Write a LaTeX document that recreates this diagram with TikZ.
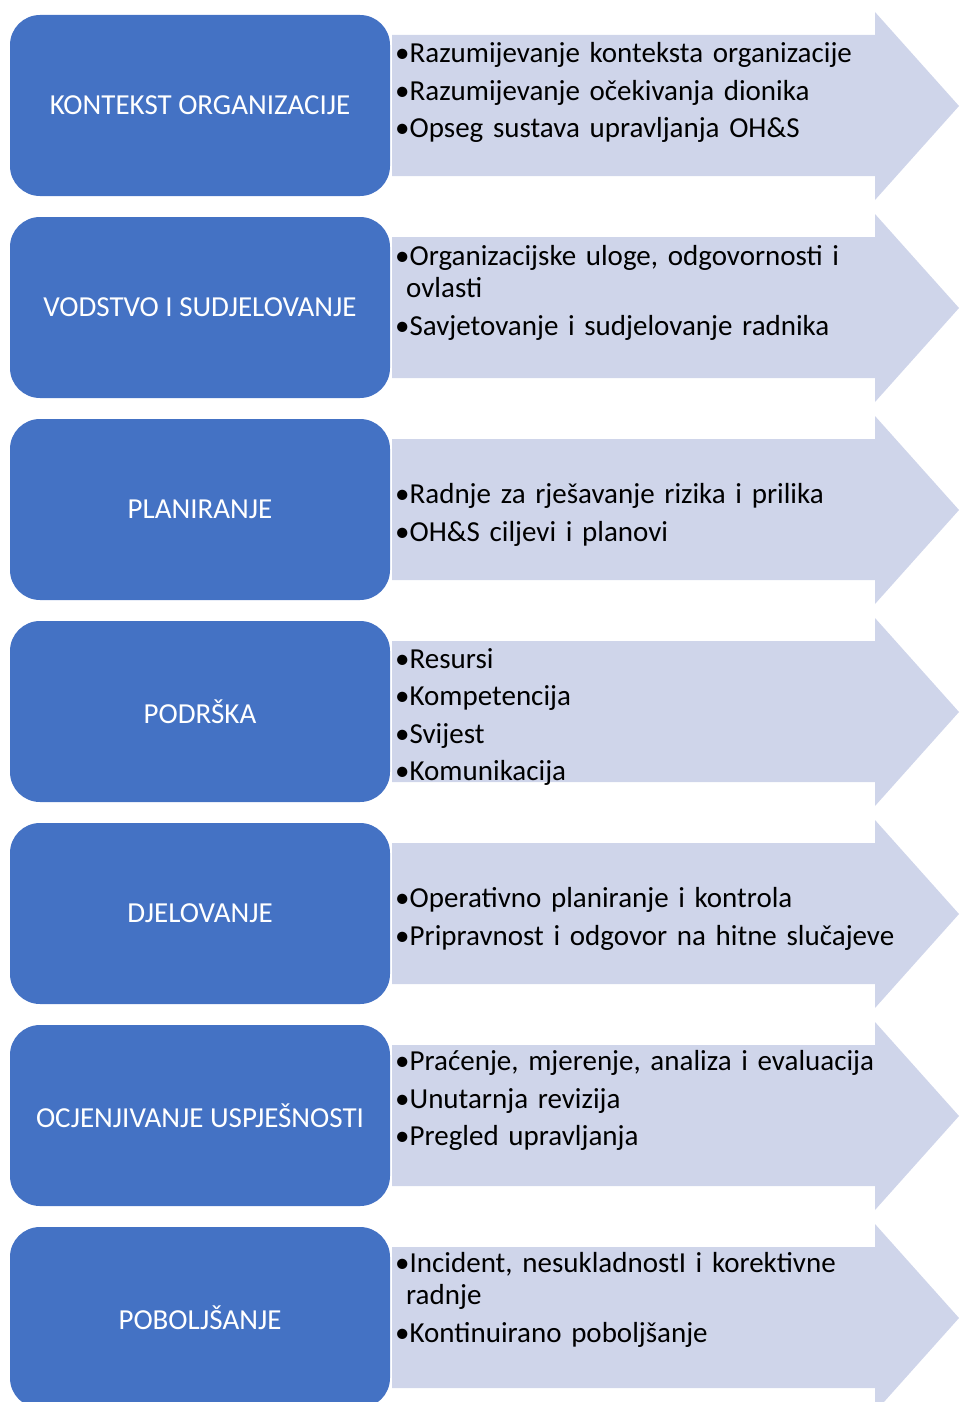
\documentclass[tikz,border=0pt]{standalone}
\usepackage{fontspec}
\setmainfont{Carlito}
\usetikzlibrary{positioning}

\definecolor{stepblue}{HTML}{4472C4}
\definecolor{steplight}{HTML}{CFD5EA}

\newcommand{\itm}[1]{\par\hangindent=11pt\hangafter=1\noindent\textbullet#1}

\begin{document}
\begin{tikzpicture}[
    x=1pt, y=-1pt,
    titlebox/.style={rectangle, rounded corners=30pt, fill=stepblue, text=white,
      minimum width=380pt, minimum height=181pt, inner sep=0pt,
      font=\fontsize{29}{34}\selectfont},
    itemtext/.style={anchor=west, text width=560pt, align=left, inner sep=0pt,
      font=\fontsize{29}{32}\selectfont\setlength{\parskip}{5.5pt}},
    arrowfill/.style={fill=steplight},
  ]
  \useasboundingbox (0,0) rectangle (959,1402);
  \clip (0,0) rectangle (959,1402);

  % light arrows behind the boxes
  \foreach \r in {0,...,6} {
    \pgfmathsetmacro{\yo}{15+202*\r}
    \fill[arrowfill] (392,\yo+20) -- (875,\yo+20) -- (875,\yo-3)
      -- (959,\yo+91) -- (875,\yo+185) -- (875,\yo+161) -- (392,\yo+161) -- cycle;
  }

  % blue boxes
  \node[titlebox] (kontekst) at (200,105.5) {KONTEKST ORGANIZACIJE};
  \node[titlebox] (vodstvo) at (200,307.5) {VODSTVO I SUDJELOVANJE};
  \node[titlebox] (planiranje) at (200,509.5) {PLANIRANJE};
  \node[titlebox] (podrska) at (200,711.5) {PODRŠKA};
  \node[titlebox] (djelovanje) at (200,913.5) {DJELOVANJE};
  \node[titlebox] (ocjena) at (200,1115.5) {OCJENJIVANJE USPJEŠNOSTI};
  \node[titlebox] (poboljsanje) at (200,1317.5) {POBOLJŠANJE};

  % bullet texts
  \node[itemtext] (tkontekst) at (395,84) {%
    \itm{Razumijevanje konteksta organizacije}
    \itm{Razumijevanje očekivanja dionika}
    \itm{Opseg sustava upravljanja OH\&S}};
  \node[itemtext] (tvodstvo) at (395,284) {%
    \itm{Organizacijske uloge, odgovornosti i\newline ovlasti}
    \itm{Savjetovanje i sudjelovanje radnika}};
  \node[itemtext] (tplaniranje) at (395,506) {%
    \itm{Radnje za rješavanje rizika i prilika}
    \itm{OH\&S ciljevi i planovi}};
  \node[itemtext] (tpodrska) at (395,708) {%
    \itm{Resursi}
    \itm{Kompetencija}
    \itm{Svijest}
    \itm{Komunikacija}};
  \node[itemtext] (tdjelovanje) at (395,910) {%
    \itm{Operativno planiranje i kontrola}
    \itm{Pripravnost i odgovor na hitne slučajeve}};
  \node[itemtext] (tocjena) at (395,1092) {%
    \itm{Praćenje, mjerenje, analiza i evaluacija}
    \itm{Unutarnja revizija}
    \itm{Pregled upravljanja}};
  \node[itemtext] (tpoboljsanje) at (395,1291) {%
    \itm{Incident, nesukladnostI i korektivne\newline radnje}
    \itm{Kontinuirano poboljšanje}};
\end{tikzpicture}
\end{document}
